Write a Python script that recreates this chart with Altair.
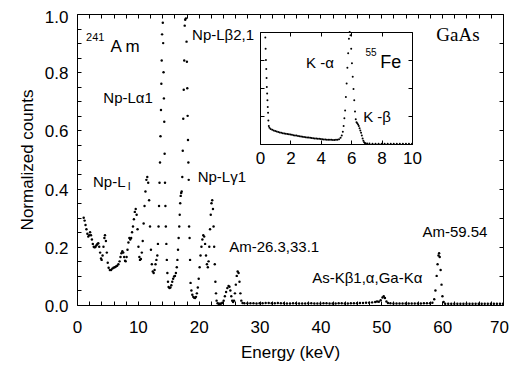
import altair as alt
import pandas as pd

# ---------------- main spectrum: 241Am source, GaAs detector ----------------
energy = [
    1.1, 1.25, 1.4, 1.55, 1.7, 1.85, 2.0, 2.15, 2.3, 2.45, 2.6, 2.75, 2.9, 3.05, 3.2, 3.35, 3.5, 3.65, 3.8, 3.95,
    4.05, 4.2, 4.35, 4.5, 4.6, 4.75, 4.9, 5.05, 5.2, 5.4, 5.6, 5.8, 6.0, 6.2, 6.4, 6.6, 6.8, 7.0, 7.15, 7.3,
    7.45, 7.6, 7.75, 7.9, 8.0, 8.15, 8.3, 8.45, 8.6, 8.75, 8.9, 9.05, 9.2, 9.35, 9.5, 9.65, 9.8, 9.95, 10.1, 10.25,
    10.35, 10.5, 10.65, 10.8, 10.95, 11.1, 11.25, 11.4, 11.55, 11.7, 11.85, 12.0, 12.15, 12.3, 12.45, 12.6, 12.75, 12.9, 13.05, 13.2,
    13.3, 13.4, 13.48, 13.56, 13.64, 13.72, 13.8, 13.86, 13.92, 13.98, 14.1, 14.16, 14.22, 14.28, 14.34, 14.4, 14.46, 14.53, 14.6, 14.68,
    14.76, 14.85, 14.95, 15.05, 15.2, 15.35, 15.5, 15.65, 15.8, 15.95, 16.1, 16.25, 16.4, 16.5, 16.6, 16.7, 16.8, 16.88, 16.96, 17.04,
    17.12, 17.2, 17.3, 17.38, 17.46, 17.54, 17.62, 17.7, 17.78, 17.9, 18.0, 18.06, 18.12, 18.18, 18.24, 18.3, 18.36, 18.42, 18.5, 18.58,
    18.66, 18.8, 18.95, 19.1, 19.25, 19.4, 19.55, 19.7, 19.85, 20.0, 20.15, 20.3, 20.45, 20.6, 20.75, 20.9, 21.05, 21.2, 21.35, 21.5,
    21.62, 21.74, 21.86, 21.98, 22.1, 22.22, 22.34, 22.44, 22.54, 22.64, 22.74, 22.84, 22.94, 23.1, 23.3, 23.5, 23.7, 23.9, 24.1, 24.3,
    24.5, 24.7, 24.9, 25.05, 25.2, 25.35, 25.5, 25.65, 25.8, 25.95, 26.1, 26.25, 26.4, 26.55, 26.7, 26.85, 27.0, 27.2, 27.5, 28.0,
    28.5, 29.0, 29.5, 30.0, 30.5, 31.0, 31.5, 32.0, 32.5, 33.0, 33.5, 34.0, 34.5, 35.0, 35.5, 36.0, 36.5, 37.0, 37.5, 38.0,
    38.5, 39.0, 39.5, 40.0, 40.5, 41.0, 41.5, 42.0, 42.5, 43.0, 43.5, 44.0, 44.5, 45.0, 45.5, 46.0, 46.5, 47.0, 47.5, 48.0,
    48.5, 49.0, 49.3, 49.6, 49.9, 50.2, 50.4, 50.6, 50.85, 51.1, 51.5, 52.0, 52.5, 53.0, 53.5, 54.0, 54.5, 55.0, 55.5, 56.0,
    56.5, 57.0, 57.5, 58.0, 58.4, 58.7, 58.9, 59.1, 59.25, 59.4, 59.5, 59.6, 59.75, 59.9, 60.05, 60.25, 60.5, 61.0, 61.5, 62.0,
    62.5, 63.0, 63.5, 64.0, 64.5, 65.0, 65.5, 66.0, 66.5, 67.0, 67.5, 68.0, 68.5, 69.0, 69.5, 70.0,
]
counts = [
    0.300, 0.290, 0.275, 0.260, 0.245, 0.235, 0.240, 0.250, 0.240, 0.225, 0.210, 0.200, 0.198, 0.200, 0.205, 0.210, 0.212, 0.200, 0.180, 0.160,
    0.155, 0.170, 0.200, 0.230, 0.240, 0.220, 0.180, 0.145, 0.128, 0.120, 0.120, 0.125, 0.128, 0.130, 0.132, 0.135, 0.140, 0.150, 0.165, 0.178,
    0.185, 0.180, 0.165, 0.152, 0.150, 0.165, 0.190, 0.215, 0.230, 0.225, 0.230, 0.250, 0.270, 0.295, 0.320, 0.330, 0.310, 0.260, 0.200, 0.165,
    0.155, 0.158, 0.180, 0.220, 0.280, 0.340, 0.390, 0.430, 0.440, 0.420, 0.360, 0.270, 0.190, 0.140, 0.115, 0.110, 0.120, 0.140, 0.155, 0.170,
    0.210, 0.270, 0.340, 0.420, 0.490, 0.580, 0.670, 0.760, 0.840, 0.930, 0.970, 0.900, 0.800, 0.710, 0.630, 0.520, 0.420, 0.340, 0.270, 0.210,
    0.155, 0.110, 0.080, 0.062, 0.058, 0.060, 0.068, 0.080, 0.090, 0.098, 0.100, 0.110, 0.130, 0.155, 0.190, 0.230, 0.270, 0.310, 0.350, 0.375,
    0.385, 0.390, 0.440, 0.530, 0.640, 0.740, 0.840, 0.960, 0.980, 0.985, 0.905, 0.836, 0.745, 0.650, 0.567, 0.490, 0.430, 0.270, 0.230, 0.155,
    0.076, 0.050, 0.035, 0.028, 0.025, 0.024, 0.028, 0.040, 0.060, 0.090, 0.130, 0.170, 0.200, 0.225, 0.240, 0.235, 0.210, 0.170, 0.140, 0.130,
    0.150, 0.200, 0.260, 0.310, 0.350, 0.360, 0.330, 0.270, 0.200, 0.140, 0.080, 0.040, 0.015, 0.006, 0.004, 0.004, 0.005, 0.008, 0.015, 0.030,
    0.045, 0.058, 0.065, 0.063, 0.050, 0.030, 0.015, 0.010, 0.015, 0.040, 0.070, 0.100, 0.115, 0.110, 0.080, 0.040, 0.015, 0.007, 0.006, 0.006,
    0.006, 0.006, 0.005, 0.006, 0.006, 0.007, 0.007, 0.006, 0.006, 0.007, 0.006, 0.006, 0.005, 0.005, 0.006, 0.006, 0.005, 0.005, 0.005, 0.006,
    0.006, 0.005, 0.005, 0.005, 0.006, 0.006, 0.005, 0.005, 0.005, 0.006, 0.006, 0.005, 0.005, 0.006, 0.006, 0.006, 0.007, 0.007, 0.008, 0.008,
    0.009, 0.010, 0.012, 0.011, 0.016, 0.026, 0.030, 0.024, 0.012, 0.007, 0.006, 0.005, 0.005, 0.005, 0.005, 0.005, 0.005, 0.005, 0.005, 0.005,
    0.005, 0.006, 0.006, 0.006, 0.008, 0.020, 0.050, 0.100, 0.140, 0.170, 0.178, 0.165, 0.120, 0.070, 0.030, 0.010, 0.004, 0.004, 0.004, 0.004,
    0.004, 0.004, 0.004, 0.004, 0.004, 0.004, 0.004, 0.004, 0.004, 0.004, 0.004, 0.004, 0.004, 0.004, 0.004, 0.004,
]

# ---------------- inset spectrum: 55Fe ----------------
fe_energy = [
    0.35, 0.37, 0.39, 0.41, 0.43, 0.45, 0.47, 0.49, 0.51, 0.53, 0.55, 0.58, 0.62, 0.7, 0.8, 0.9, 1.0, 1.1, 1.2, 1.3,
    1.4, 1.5, 1.6, 1.7, 1.8, 1.9, 2.0, 2.1, 2.2, 2.3, 2.4, 2.5, 2.6, 2.7, 2.8, 2.9, 3.0, 3.1, 3.2, 3.3,
    3.4, 3.5, 3.6, 3.7, 3.8, 3.9, 4.0, 4.1, 4.2, 4.3, 4.4, 4.5, 4.6, 4.7, 4.8, 4.9, 5.0, 5.1, 5.2, 5.3,
    5.38, 5.45, 5.5, 5.55, 5.6, 5.65, 5.7, 5.75, 5.8, 5.85, 5.9, 5.95, 6.0, 6.05, 6.1, 6.15, 6.2, 6.25, 6.3, 6.35,
    6.4, 6.45, 6.5, 6.55, 6.6, 6.65, 6.7, 6.75, 6.8, 6.85, 6.9, 6.95, 7.05, 7.2, 7.4, 7.6, 7.8, 8.0, 8.2, 8.4,
    8.6, 8.8, 9.0, 9.2, 9.4, 9.6, 9.8, 10.0,
]
fe_counts = [
    0.950, 0.850, 0.750, 0.670, 0.590, 0.510, 0.450, 0.390, 0.330, 0.280, 0.210, 0.160, 0.145, 0.135, 0.128, 0.121, 0.115, 0.111, 0.107, 0.103,
    0.100, 0.096, 0.094, 0.091, 0.089, 0.087, 0.085, 0.082, 0.079, 0.077, 0.075, 0.072, 0.070, 0.068, 0.065, 0.063, 0.061, 0.059, 0.057, 0.055,
    0.053, 0.052, 0.050, 0.049, 0.047, 0.046, 0.044, 0.042, 0.041, 0.040, 0.039, 0.038, 0.038, 0.037, 0.036, 0.036, 0.037, 0.038, 0.042, 0.055,
    0.075, 0.110, 0.160, 0.230, 0.300, 0.420, 0.540, 0.680, 0.810, 0.940, 1.000, 0.970, 0.850, 0.720, 0.600, 0.490, 0.390, 0.290, 0.220, 0.195,
    0.185, 0.175, 0.160, 0.140, 0.120, 0.100, 0.075, 0.050, 0.030, 0.015, 0.008, 0.005, 0.004, 0.004, 0.003, 0.003, 0.003, 0.003, 0.003, 0.003,
    0.003, 0.003, 0.003, 0.003, 0.003, 0.003, 0.003, 0.003,
]

# ---------------- axis ticks / labels ----------------
main_x_ticks = [0, 2, 4, 6, 8, 10, 12, 14, 16, 18, 20, 22, 24, 26, 28, 30, 32, 34, 36, 38, 40,
                42, 44, 46, 48, 50, 52, 54, 56, 58, 60, 62, 64, 66, 68, 70]
main_x_labels = [0, 10, 20, 30, 40, 50, 60, 70]
main_y_ticks = [0.0, 0.05, 0.1, 0.15, 0.2, 0.25, 0.3, 0.35, 0.4, 0.45, 0.5, 0.55, 0.6, 0.65,
                0.7, 0.75, 0.8, 0.85, 0.9, 0.95, 1.0]
main_y_labels = [0.0, 0.2, 0.4, 0.6, 0.8, 1.0]
main_y_right_ticks = [0.0, 0.1, 0.2, 0.3, 0.4, 0.5, 0.6, 0.7, 0.8, 0.9, 1.0]
inset_x_ticks = [0, 2, 4, 6, 8, 10]
inset_y_ticks = [0, 0.25, 0.5, 0.75, 1]

# ---------------- annotations (data coordinates) ----------------
main_text = ["Np-L\u03b22,1", "Np-L\u03b11", "Np-L", "Np-L\u03b31", "Am-26.3,33.1",
             "As-K\u03b21,\u03b1,Ga-K\u03b1", "Am-59.54"]
main_text_x = [24.0, 8.4, 5.3, 23.8, 32.4, 47.7, 62.1]
main_text_y = [0.928, 0.711, 0.423, 0.44, 0.20, 0.093, 0.251]

small_text = ["241", "l"]
small_text_x = [3.0, 8.6]
small_text_y = [0.918, 0.404]

big_text = ["A m"]
big_text_x = [7.9]
big_text_y = [0.887]

serif_text = ["GaAs"]
serif_text_x = [62.6]
serif_text_y = [0.928]

inset_text = ["K -\u03b1", "K -\u03b2"]
inset_text_x = [3.95, 7.7]
inset_text_y = [0.72, 0.24]
inset_big_text = ["Fe"]
inset_big_x = [8.6]
inset_big_y = [0.72]
inset_sup_text = ["55"]
inset_sup_x = [7.3]
inset_sup_y = [0.81]

W, H = 426, 291
# inset box in plot pixels (left, right, top, bottom)
IL, IR, IT, IB = 183, 335, 18, 130
FONT = "Liberation Sans"
TK = 4  # tick length

main_df = pd.DataFrame({"e": energy, "c": counts})
fe_df = pd.DataFrame({"e": fe_energy, "c": fe_counts})


def tdf(t, x, y):
    return pd.DataFrame({"t": t, "x": x, "y": y})


MXS = alt.Scale(domain=[0, 70], nice=False, zero=False)
MYS = alt.Scale(domain=[0, 1], nice=False, zero=False)
IXS = alt.Scale(domain=[0, 10], range=[IL, IR], nice=False, zero=False)
IYS = alt.Scale(domain=[0, 1], range=[IB, IT], nice=False, zero=False)


def tick_axis(orient, offset, values, domain=False):
    # axis used only for its ticks (placed on the opposite edge so they point inward)
    return alt.Axis(orient=orient, offset=offset, values=values, labels=False, ticks=True,
                    tickSize=TK, domain=domain, title=None)


def line_axis(orient, offset):
    return alt.Axis(orient=orient, offset=offset, labels=False, ticks=False, domain=True, title=None)


last_x = main_x_labels[-1]
top_y = main_y_labels[-1]

points = alt.Chart(main_df).mark_circle(size=6, color="black", opacity=1, clip=True).encode(
    x=alt.X("e:Q", scale=MXS,
            axis=alt.Axis(values=main_x_labels, ticks=False, labelPadding=14, domain=False,
                          labelFlush=False, labelOverlap=False,
                          labelOffset={"condition": {"test": "datum.value == %d" % last_x, "value": -4},
                                       "value": 0},
                          title="Energy  (keV)", titlePadding=9)),
    y=alt.Y("c:Q", scale=MYS,
            axis=alt.Axis(values=main_y_labels, ticks=False, format=".1f", labelPadding=9,
                          labelOffset={"condition": {"test": "datum.value == %g" % top_y, "value": 3},
                                       "value": 1.5},
                          domain=False, labelOverlap=False, labelFlush=False,
                          title="Normalized  counts", titlePadding=8)),
)

# bottom inward ticks (top-orient axis moved to the bottom edge), left inward ticks
labels_main = alt.Chart(tdf(main_text, main_text_x, main_text_y)).mark_text(
    font=FONT, fontSize=15, color="black", align="center", baseline="middle").encode(
    x=alt.X("x:Q", scale=MXS, axis=tick_axis("top", -H, main_x_ticks)),
    y=alt.Y("y:Q", scale=MYS, axis=tick_axis("right", -W, main_y_ticks)),
    text="t:N",
)

# top inward ticks, right inward ticks
labels_small = alt.Chart(tdf(small_text, small_text_x, small_text_y)).mark_text(
    font=FONT, fontSize=11, color="black", align="center", baseline="middle").encode(
    x=alt.X("x:Q", scale=MXS, axis=tick_axis("bottom", -H, main_x_ticks)),
    y=alt.Y("y:Q", scale=MYS, axis=tick_axis("left", -W, main_y_right_ticks)),
    text="t:N")

labels_big = alt.Chart(tdf(big_text, big_text_x, big_text_y)).mark_text(
    font=FONT, fontSize=17, color="black", align="center", baseline="middle").encode(
    x=alt.X("x:Q", scale=MXS, axis=None), y=alt.Y("y:Q", scale=MYS, axis=None), text="t:N")

labels_serif = alt.Chart(tdf(serif_text, serif_text_x, serif_text_y)).mark_text(
    font="Liberation Serif", fontSize=19, color="black", align="center", baseline="middle").encode(
    x=alt.X("x:Q", scale=MXS, axis=None), y=alt.Y("y:Q", scale=MYS, axis=None), text="t:N")

# inset: frame bottom + labels, frame left
inset_points = alt.Chart(fe_df).mark_circle(size=4, color="black", opacity=1).encode(
    x=alt.X("e:Q", scale=IXS,
            axis=alt.Axis(orient="bottom", offset=IB - H, values=inset_x_ticks, ticks=False,
                          labelPadding=6, domain=True, labelFlush=False, labelOverlap=False,
                          title=None)),
    y=alt.Y("c:Q", scale=IYS, axis=line_axis("left", -IL)),
)

# inset: inward bottom ticks and inward left ticks
inset_labels = alt.Chart(tdf(inset_text, inset_text_x, inset_text_y)).mark_text(
    font=FONT, fontSize=15, color="black", align="center", baseline="middle").encode(
    x=alt.X("x:Q", scale=IXS, axis=tick_axis("top", -IB, inset_x_ticks)),
    y=alt.Y("y:Q", scale=IYS, axis=tick_axis("right", IL - W, inset_y_ticks)),
    text="t:N",
)

# inset: inward top ticks and inward right ticks
inset_big = alt.Chart(tdf(inset_big_text, inset_big_x, inset_big_y)).mark_text(
    font=FONT, fontSize=18, color="black", align="center", baseline="middle").encode(
    x=alt.X("x:Q", scale=IXS, axis=tick_axis("bottom", IT - H, inset_x_ticks)),
    y=alt.Y("y:Q", scale=IYS, axis=tick_axis("left", -IR, inset_y_ticks)),
    text="t:N")

# inset: frame top and right
inset_sup = alt.Chart(tdf(inset_sup_text, inset_sup_x, inset_sup_y)).mark_text(
    font=FONT, fontSize=10, color="black", align="center", baseline="middle").encode(
    x=alt.X("x:Q", scale=IXS, axis=line_axis("top", -IT)),
    y=alt.Y("y:Q", scale=IYS, axis=line_axis("right", IR - W)),
    text="t:N")

chart = alt.layer(
    points, labels_main, labels_small, labels_big, labels_serif,
    inset_points, inset_labels, inset_big, inset_sup,
).resolve_scale(x="independent", y="independent").properties(
    width=W, height=H,
    autosize=alt.AutoSizeParams(type="none"),
    padding={"left": 69, "top": 6, "right": 6, "bottom": 62},
    background="white",
).configure_view(stroke="black", strokeWidth=1).configure_axis(
    grid=False, labelFont=FONT, titleFont=FONT, labelFontSize=17, titleFontSize=17,
    labelColor="black", titleColor="black", tickColor="black", domainColor="black",
    titleFontWeight="normal", tickWidth=1, domainWidth=1,
)

chart.save("out.html", embed_options={"renderer": "svg", "actions": False})
